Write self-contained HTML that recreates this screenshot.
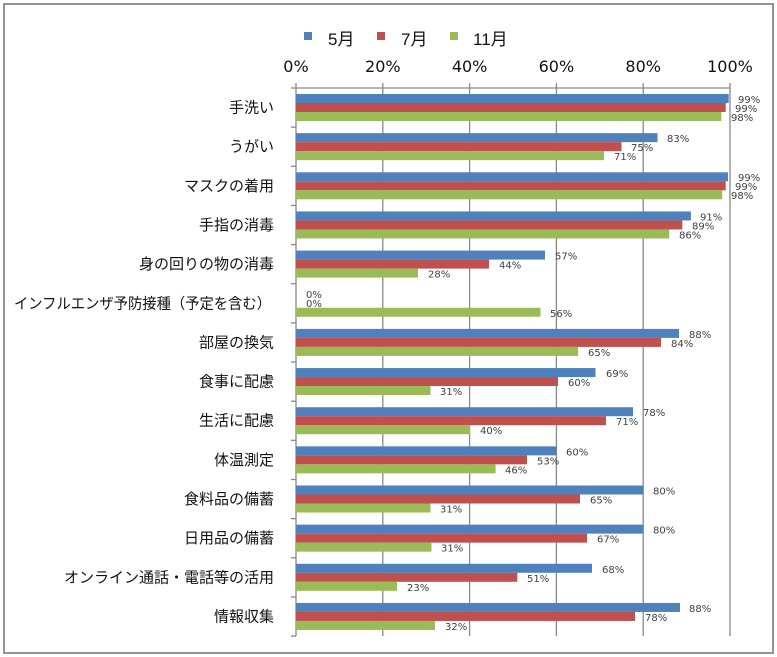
<!DOCTYPE html>
<html><head><meta charset="utf-8"><style>
html,body{margin:0;padding:0;background:#fff;}
svg{display:block;}
.cat{font-family:"Liberation Sans","Noto Sans CJK JP",sans-serif;font-size:15px;fill:#111;text-anchor:end;}
.val{font-family:"DejaVu Sans","Liberation Sans",sans-serif;font-size:10px;fill:#404040;}
.tick{font-family:"DejaVu Sans","Liberation Sans",sans-serif;font-size:16px;fill:#111;text-anchor:middle;}
.leg{font-family:"Liberation Sans","Noto Sans CJK JP",sans-serif;font-size:17px;fill:#111;}
</style></head><body>
<svg width="777" height="657" viewBox="0 0 777 657" xmlns="http://www.w3.org/2000/svg">
<rect x="0" y="0" width="777" height="657" fill="#fff"/>
<rect x="4" y="4" width="769" height="649" fill="#fff" stroke="#939393" stroke-width="2"/>
<!-- legend -->
<rect x="304" y="32" width="8" height="8" fill="#4F81BD"/>
<text class="leg" x="328" y="45">5月</text>
<rect x="377" y="32" width="8" height="8" fill="#C0504D"/>
<text class="leg" x="401" y="45">7月</text>
<rect x="450" y="32" width="8" height="8" fill="#9BBB59"/>
<text class="leg" x="473" y="45">11月</text>
<!-- tick labels -->
<text class="tick" x="296" y="72">0%</text>
<text class="tick" x="382.8" y="72">20%</text>
<text class="tick" x="469.6" y="72">40%</text>
<text class="tick" x="556.4" y="72">60%</text>
<text class="tick" x="643.2" y="72">80%</text>
<text class="tick" x="730" y="72">100%</text>
<!-- grid -->
<g stroke="#898989" stroke-width="1.3">
<line x1="296" y1="88" x2="730" y2="88"/>
<line x1="296" y1="83" x2="296" y2="636"/>
<line x1="382.8" y1="83" x2="382.8" y2="636"/>
<line x1="469.6" y1="83" x2="469.6" y2="636"/>
<line x1="556.4" y1="83" x2="556.4" y2="636"/>
<line x1="643.2" y1="83" x2="643.2" y2="636"/>
<line x1="730" y1="83" x2="730" y2="636"/>
<line x1="291" y1="88" x2="296" y2="88"/>
<line x1="291" y1="127.15" x2="296" y2="127.15"/>
<line x1="291" y1="166.3" x2="296" y2="166.3"/>
<line x1="291" y1="205.45" x2="296" y2="205.45"/>
<line x1="291" y1="244.6" x2="296" y2="244.6"/>
<line x1="291" y1="283.75" x2="296" y2="283.75"/>
<line x1="291" y1="322.9" x2="296" y2="322.9"/>
<line x1="291" y1="362.05" x2="296" y2="362.05"/>
<line x1="291" y1="401.2" x2="296" y2="401.2"/>
<line x1="291" y1="440.35" x2="296" y2="440.35"/>
<line x1="291" y1="479.5" x2="296" y2="479.5"/>
<line x1="291" y1="518.65" x2="296" y2="518.65"/>
<line x1="291" y1="557.8" x2="296" y2="557.8"/>
<line x1="291" y1="596.95" x2="296" y2="596.95"/>
<line x1="291" y1="636.1" x2="296" y2="636.1"/>
</g>
<!-- categories -->
<text class="cat" x="274" y="112.5">手洗い</text>
<text class="cat" x="274" y="151.7">うがい</text>
<text class="cat" x="274" y="190.8">マスクの着用</text>
<text class="cat" x="274" y="230">手指の消毒</text>
<text class="cat" x="274" y="269.1">身の回りの物の消毒</text>
<text class="cat" x="271" y="308.3" textLength="257" lengthAdjust="spacingAndGlyphs">インフルエンザ予防接種（予定を含む）</text>
<text class="cat" x="274" y="347.4">部屋の換気</text>
<text class="cat" x="274" y="386.6">食事に配慮</text>
<text class="cat" x="274" y="425.7">生活に配慮</text>
<text class="cat" x="274" y="464.9">体温測定</text>
<text class="cat" x="274" y="504">食料品の備蓄</text>
<text class="cat" x="274" y="543.2">日用品の備蓄</text>
<text class="cat" x="274" y="582.3">オンライン通話・電話等の活用</text>
<text class="cat" x="274" y="621.5">情報収集</text>
<!-- bars -->
<g>
<rect x="296" y="94" width="432.7" height="9" fill="#4F81BD"/>
<rect x="296" y="103" width="429.7" height="9" fill="#C0504D"/>
<rect x="296" y="112" width="425.3" height="9" fill="#9BBB59"/>
<rect x="296" y="133.15" width="361.5" height="9" fill="#4F81BD"/>
<rect x="296" y="142.15" width="325.5" height="9" fill="#C0504D"/>
<rect x="296" y="151.15" width="308.1" height="9" fill="#9BBB59"/>
<rect x="296" y="172.3" width="432" height="9" fill="#4F81BD"/>
<rect x="296" y="181.3" width="429.7" height="9" fill="#C0504D"/>
<rect x="296" y="190.3" width="426.2" height="9" fill="#9BBB59"/>
<rect x="296" y="211.45" width="394.9" height="9" fill="#4F81BD"/>
<rect x="296" y="220.45" width="386.3" height="9" fill="#C0504D"/>
<rect x="296" y="229.45" width="373.2" height="9" fill="#9BBB59"/>
<rect x="296" y="250.6" width="249" height="9" fill="#4F81BD"/>
<rect x="296" y="259.6" width="193" height="9" fill="#C0504D"/>
<rect x="296" y="268.6" width="122" height="9" fill="#9BBB59"/>
<rect x="296" y="307.75" width="244.5" height="9" fill="#9BBB59"/>
<rect x="296" y="328.9" width="383" height="9" fill="#4F81BD"/>
<rect x="296" y="337.9" width="365" height="9" fill="#C0504D"/>
<rect x="296" y="346.9" width="282.1" height="9" fill="#9BBB59"/>
<rect x="296" y="368.05" width="299.5" height="9" fill="#4F81BD"/>
<rect x="296" y="377.05" width="262" height="9" fill="#C0504D"/>
<rect x="296" y="386.05" width="134.5" height="9" fill="#9BBB59"/>
<rect x="296" y="407.2" width="337" height="9" fill="#4F81BD"/>
<rect x="296" y="416.2" width="310" height="9" fill="#C0504D"/>
<rect x="296" y="425.2" width="174" height="9" fill="#9BBB59"/>
<rect x="296" y="446.35" width="260.4" height="9" fill="#4F81BD"/>
<rect x="296" y="455.35" width="231" height="9" fill="#C0504D"/>
<rect x="296" y="464.35" width="199.6" height="9" fill="#9BBB59"/>
<rect x="296" y="485.5" width="347.2" height="9" fill="#4F81BD"/>
<rect x="296" y="494.5" width="284" height="9" fill="#C0504D"/>
<rect x="296" y="503.5" width="134.5" height="9" fill="#9BBB59"/>
<rect x="296" y="524.65" width="347.2" height="9" fill="#4F81BD"/>
<rect x="296" y="533.65" width="291" height="9" fill="#C0504D"/>
<rect x="296" y="542.65" width="135.5" height="9" fill="#9BBB59"/>
<rect x="296" y="563.8" width="296" height="9" fill="#4F81BD"/>
<rect x="296" y="572.8" width="221.3" height="9" fill="#C0504D"/>
<rect x="296" y="581.8" width="101" height="9" fill="#9BBB59"/>
<rect x="296" y="602.95" width="384" height="9" fill="#4F81BD"/>
<rect x="296" y="611.95" width="339" height="9" fill="#C0504D"/>
<rect x="296" y="620.95" width="139" height="9" fill="#9BBB59"/>
</g>
<!-- value labels -->
<g>
<text class="val" x="738" y="103">99%</text>
<text class="val" x="735" y="112">99%</text>
<text class="val" x="731" y="121">98%</text>
<text class="val" x="667" y="142">83%</text>
<text class="val" x="631" y="151">75%</text>
<text class="val" x="614" y="160">71%</text>
<text class="val" x="738" y="181">99%</text>
<text class="val" x="735" y="190">99%</text>
<text class="val" x="731" y="199">98%</text>
<text class="val" x="700" y="220.5">91%</text>
<text class="val" x="692" y="229.5">89%</text>
<text class="val" x="679" y="238.5">86%</text>
<text class="val" x="555" y="259.6">57%</text>
<text class="val" x="499" y="268.6">44%</text>
<text class="val" x="428" y="277.6">28%</text>
<text class="val" x="306" y="298">0%</text>
<text class="val" x="306" y="307">0%</text>
<text class="val" x="550" y="316.8">56%</text>
<text class="val" x="689" y="338">88%</text>
<text class="val" x="671" y="347">84%</text>
<text class="val" x="588" y="356">65%</text>
<text class="val" x="606" y="377">69%</text>
<text class="val" x="568" y="386">60%</text>
<text class="val" x="440" y="395">31%</text>
<text class="val" x="643" y="416.2">78%</text>
<text class="val" x="616" y="425.2">71%</text>
<text class="val" x="480" y="434.2">40%</text>
<text class="val" x="566" y="455.4">60%</text>
<text class="val" x="537" y="464.4">53%</text>
<text class="val" x="505" y="473.4">46%</text>
<text class="val" x="653" y="494.5">80%</text>
<text class="val" x="590" y="503.5">65%</text>
<text class="val" x="440" y="512.5">31%</text>
<text class="val" x="653" y="533.7">80%</text>
<text class="val" x="597" y="542.7">67%</text>
<text class="val" x="441" y="551.7">31%</text>
<text class="val" x="602" y="572.8">68%</text>
<text class="val" x="527" y="581.8">51%</text>
<text class="val" x="407" y="590.8">23%</text>
<text class="val" x="689" y="612">88%</text>
<text class="val" x="645" y="621">78%</text>
<text class="val" x="445" y="630">32%</text>
</g>
</svg>
</body></html>
